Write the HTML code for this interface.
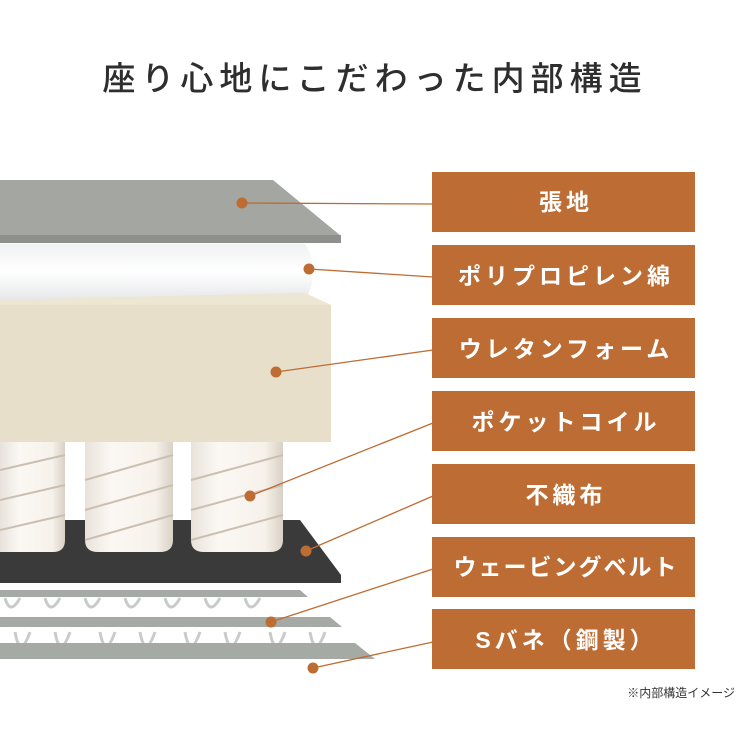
<!DOCTYPE html>
<html><head><meta charset="utf-8"><style>
body{margin:0;background:#fff;width:747px;height:748px;overflow:hidden;font-family:"Liberation Sans","Noto Sans CJK JP",sans-serif}
</style></head><body>
<svg width="747" height="748" viewBox="0 0 747 748" xmlns="http://www.w3.org/2000/svg" style="position:absolute;left:0;top:0">
<defs>
<linearGradient id="cot" x1="0" y1="0" x2="0" y2="1"><stop offset="0" stop-color="#f0f1f3"/><stop offset="0.5" stop-color="#ffffff"/><stop offset="1" stop-color="#e6e7ea"/></linearGradient>
<linearGradient id="coil" x1="0" y1="0" x2="1" y2="0"><stop offset="0" stop-color="#e8e2da"/><stop offset="0.3" stop-color="#fbf8f4"/><stop offset="0.8" stop-color="#f6f1ea"/><stop offset="1" stop-color="#d9d1c6"/></linearGradient>
</defs>
<text x="375" y="90" text-anchor="middle" font-size="33" font-weight="500" fill="#2e2e2e" letter-spacing="6" font-family="'Liberation Sans','Noto Sans CJK JP',sans-serif">座り心地にこだわった内部構造</text>
<!-- Top fabric -->
<polygon points="0,180 273,180 341,236 341,243 0,243" fill="#a3a6a1"/>
<rect x="0" y="235" width="341" height="8" fill="#8d908b"/>
<!-- cotton -->
<path d="M0,244 L305,244 Q322,270 305,300 L0,300 Z" fill="url(#cot)"/>
<!-- foam -->
<polygon points="0,300 305,293 331,305 331,442 0,442" fill="#e7dfca"/>
<polygon points="0,300 305,293 331,305 0,305" fill="#ede6d3"/>
<!-- black sheet -->
<polygon points="0,520 300,520 341,575 341,583 0,583" fill="#3a3a3a"/>
<!-- coils -->
<g fill="url(#coil)">
<path d="M0,442 H65 V540 Q65,552 53,552 H0 Z"/>
<path d="M85,442 H173 V540 Q173,552 160,552 H98 Q85,552 85,540 Z"/>
<path d="M191,442 H283 V540 Q283,552 270,552 H204 Q191,552 191,540 Z"/>
</g>
<g stroke="#cbbfb0" stroke-width="2" fill="none">
<path d="M0,470 L65,455 M0,500 L65,485 M0,530 L65,515"/>
<path d="M85,480 L173,455 M85,510 L173,485 M85,540 L173,515"/>
<path d="M191,480 L283,455 M191,510 L283,485 M191,540 L283,515"/>
</g>
<!-- S springs and belts -->
<g stroke="#c9cbcb" stroke-width="3" fill="none">
<path d="M5,598 q5,18 15,0 M45,598 q5,18 15,0 M85,598 q5,18 15,0 M125,598 q5,18 15,0 M165,598 q5,18 15,0 M205,598 q5,18 15,0 M245,598 q5,18 15,0"/>
<path d="M15,632 q5,28 15,0 M55,632 q5,28 15,0 M100,632 q5,28 15,0 M140,632 q5,28 15,0 M185,632 q5,28 15,0 M225,632 q5,28 15,0 M270,632 q5,28 15,0 M310,632 q5,28 15,0"/>
</g>
<polygon points="0,590 300,590 308,597 0,597" fill="#a5aaa5"/>
<polygon points="0,617 330,617 342,627 0,627" fill="#a5aaa5"/>
<polygon points="0,643 355,643 375,659 0,659" fill="#a5aaa5"/>
<!-- connectors -->
<g stroke="#bd6c33" stroke-width="1.3" fill="none">
<line x1="242" y1="203" x2="433" y2="204"/>
<line x1="309" y1="269" x2="433" y2="277"/>
<line x1="276" y1="372" x2="433" y2="350"/>
<line x1="250" y1="496" x2="433" y2="423"/>
<line x1="306" y1="551" x2="433" y2="496"/>
<line x1="271" y1="622" x2="433" y2="569"/>
<line x1="313" y1="668" x2="433" y2="642"/>
</g>
<g fill="#bd6c33">
<circle cx="242" cy="203" r="5.5"/><circle cx="309" cy="269" r="5.5"/><circle cx="276" cy="372" r="5.5"/>
<circle cx="250" cy="496" r="5.5"/><circle cx="306" cy="551" r="5.5"/><circle cx="271" cy="622" r="5.5"/><circle cx="313" cy="668" r="5.5"/>
</g>
<g fill="#bd6c33">
<rect x="432" y="172" width="263" height="60"/>
<rect x="432" y="245" width="263" height="60"/>
<rect x="432" y="318" width="263" height="60"/>
<rect x="432" y="391" width="263" height="60"/>
<rect x="432" y="464" width="263" height="60"/>
<rect x="432" y="537" width="263" height="60"/>
<rect x="432" y="609" width="263" height="60"/>
</g>
<g fill="#fff" font-size="23" font-weight="bold" text-anchor="middle" letter-spacing="4" font-family="'Liberation Sans','Noto Sans CJK JP',sans-serif">
<text x="566" y="210">張地</text>
<text x="566" y="284">ポリプロピレン綿</text>
<text x="566" y="357">ウレタンフォーム</text>
<text x="566" y="430">ポケットコイル</text>
<text x="566" y="503">不織布</text>
<text x="566" y="575" letter-spacing="2">ウェービングベルト</text>
<text x="566" y="648">Sバネ（鋼製）</text>
</g>
<text x="735" y="697" text-anchor="end" font-size="12" fill="#333" font-family="'Liberation Sans','Noto Sans CJK JP',sans-serif">※内部構造イメージ</text>
</svg>
</body></html>
